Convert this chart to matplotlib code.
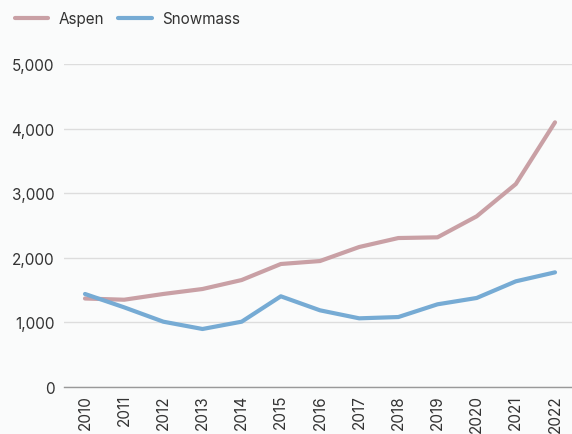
import matplotlib
matplotlib.use("Agg")
import matplotlib.pyplot as plt
from matplotlib.ticker import FuncFormatter

years = [2010, 2011, 2012, 2013, 2014, 2015, 2016, 2017, 2018, 2019, 2020, 2021, 2022]
aspen = [1370, 1351, 1440, 1517, 1656, 1904, 1950, 2167, 2306, 2317, 2642, 3142, 4097]
snowmass = [1440, 1233, 1011, 898, 1011, 1404, 1187, 1063, 1083, 1280, 1378, 1636, 1775]
yticks = [0, 1000, 2000, 3000, 4000, 5000]

plt.rcParams['font.family'] = ['Inter', 'DejaVu Sans']
bg = '#fafbfb'
fig = plt.figure(figsize=(5.72, 4.35), dpi=100, facecolor=bg)
ax = fig.add_axes([64/572, 47/435, 508/572, 323/435], facecolor=bg)

ax.plot(years, aspen, color='#c9a0a5', lw=3, solid_capstyle='round', label='Aspen', zorder=3)
ax.plot(years, snowmass, color='#76abd4', lw=3, solid_capstyle='round', label='Snowmass', zorder=3)

ax.set_xlim(2009.464, 2022.434)
ax.set_ylim(0, 5000)
ax.set_yticks(yticks)
ax.yaxis.set_major_formatter(FuncFormatter(lambda v, p: f"{int(v):,}"))
ax.set_xticks(years)
ax.set_xticklabels([str(y) for y in years], rotation=90)
for s in ['top', 'right', 'left']:
    ax.spines[s].set_visible(False)
ax.spines['bottom'].set_color('#999999')
ax.spines['bottom'].set_linewidth(1)
ax.grid(axis='y', color='#dddddd', lw=1)
ax.set_axisbelow(True)
ax.tick_params(axis='both', length=0, labelsize=11, colors='#333333')
ax.tick_params(axis='y', pad=7)
ax.tick_params(axis='x', pad=5)

fig.legend(loc='upper left', bbox_to_anchor=(0.012, 0.99), ncol=2, frameon=False,
           fontsize=11, handlelength=2.2, columnspacing=0.9, handletextpad=0.7,
           labelcolor='#333333', borderaxespad=0.3, borderpad=0.2)

fig.savefig('out.png', dpi=100, facecolor=bg)
